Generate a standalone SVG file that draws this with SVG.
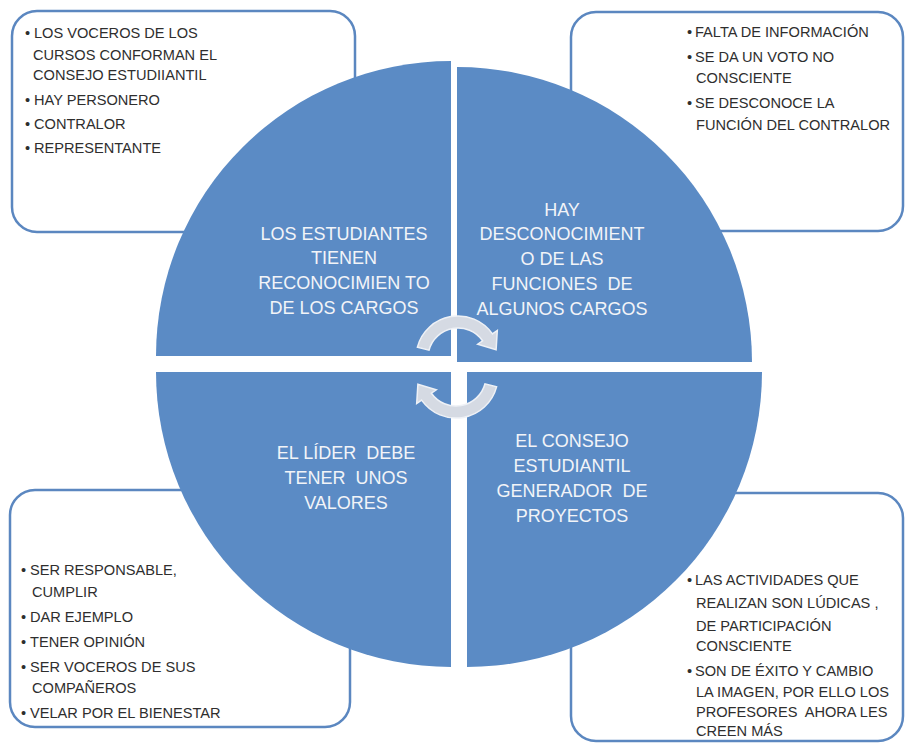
<svg xmlns="http://www.w3.org/2000/svg" width="906" height="745" viewBox="0 0 906 745">
<style>
.box{fill:#ffffff;stroke:#5b87c0;stroke-width:2.5}
.q{fill:#5b8bc5}
.qt{font-family:"Liberation Sans",Arial,sans-serif;font-size:18px;fill:#f2f4f8;text-anchor:middle;white-space:pre}
.bt{font-family:"Liberation Sans",Arial,sans-serif;font-size:14.6px;fill:#2e2e2e;white-space:pre}
.arr{fill:#d5dae3;stroke:#eef1f6;stroke-width:1.5}
</style>
<rect width="906" height="745" fill="#ffffff"/>
<g id="box-tl">
<rect class="box" x="12" y="11" width="343" height="221" rx="25"/>
<text class="bt"><tspan x="25" y="38">•</tspan><tspan x="34" y="38">LOS VOCEROS DE LOS</tspan><tspan x="33" y="60">CURSOS CONFORMAN EL</tspan><tspan x="33" y="80">CONSEJO ESTUDIIANTIL</tspan><tspan x="25" y="105">•</tspan><tspan x="34" y="105">HAY PERSONERO</tspan><tspan x="25" y="129">•</tspan><tspan x="34" y="129">CONTRALOR</tspan><tspan x="25" y="153">•</tspan><tspan x="34" y="153">REPRESENTANTE</tspan></text>
</g>
<g id="box-tr">
<rect class="box" x="571" y="12" width="332" height="219" rx="25"/>
<text class="bt"><tspan x="687" y="37">•</tspan><tspan x="695" y="37">FALTA DE INFORMACIÓN</tspan><tspan x="687" y="62">•</tspan><tspan x="695" y="62">SE DA UN VOTO NO</tspan><tspan x="696" y="83">CONSCIENTE</tspan><tspan x="687" y="108">•</tspan><tspan x="695" y="108">SE DESCONOCE LA</tspan><tspan x="696" y="130">FUNCIÓN DEL CONTRALOR</tspan></text>
</g>
<g id="box-bl">
<rect class="box" x="10" y="490" width="340" height="237" rx="25"/>
<text class="bt"><tspan x="21" y="575">•</tspan><tspan x="30" y="575">SER RESPONSABLE,</tspan><tspan x="32" y="597">CUMPLIR</tspan><tspan x="21" y="622">•</tspan><tspan x="30" y="622">DAR EJEMPLO</tspan><tspan x="21" y="647">•</tspan><tspan x="30" y="647">TENER OPINIÓN</tspan><tspan x="21" y="672">•</tspan><tspan x="30" y="672">SER VOCEROS DE SUS</tspan><tspan x="32" y="693">COMPAÑEROS</tspan><tspan x="21" y="718">•</tspan><tspan x="30" y="718">VELAR POR EL BIENESTAR</tspan></text>
</g>
<g id="box-br">
<rect class="box" x="571" y="493" width="332" height="248" rx="25"/>
<text class="bt"><tspan x="687" y="585">•</tspan><tspan x="695" y="585">LAS ACTIVIDADES QUE</tspan><tspan x="696" y="608">REALIZAN SON LÚDICAS ,</tspan><tspan x="696" y="631">DE PARTICIPACIÓN</tspan><tspan x="696" y="651">CONSCIENTE</tspan><tspan x="687" y="676">•</tspan><tspan x="695" y="676">SON DE ÉXITO Y CAMBIO</tspan><tspan x="696" y="697">LA IMAGEN, POR ELLO LOS</tspan><tspan x="696" y="717">PROFESORES  AHORA LES</tspan><tspan x="696" y="736">CREEN MÁS</tspan></text>
</g>
<g id="q-tl">
<path class="q" d="M451,356 L156,356 A295,295 0 0 1 451,61 Z"/>
<text class="qt"><tspan x="344" y="240">LOS ESTUDIANTES</tspan><tspan x="344" y="264">TIENEN</tspan><tspan x="344" y="289">RECONOCIMIEN TO</tspan><tspan x="344" y="314">DE LOS CARGOS</tspan></text>
</g>
<g id="q-tr">
<path class="q" d="M457,362 L457,67 A295,295 0 0 1 752,362 Z"/>
<text class="qt"><tspan x="562" y="216">HAY</tspan><tspan x="562" y="240">DESCONOCIMIENT</tspan><tspan x="562" y="265">O DE LAS</tspan><tspan x="562" y="290">FUNCIONES  DE</tspan><tspan x="562" y="315">ALGUNOS CARGOS</tspan></text>
</g>
<g id="q-bl">
<path class="q" d="M451,372 L451,667 A295,295 0 0 1 156,372 Z"/>
<text class="qt"><tspan x="346" y="459">EL LÍDER  DEBE</tspan><tspan x="346" y="484">TENER  UNOS</tspan><tspan x="346" y="509">VALORES</tspan></text>
</g>
<g id="q-br">
<path class="q" d="M467,372 L762,372 A295,295 0 0 1 467,667 Z"/>
<text class="qt"><tspan x="572" y="447">EL CONSEJO</tspan><tspan x="572" y="472">ESTUDIANTIL</tspan><tspan x="572" y="497">GENERADOR  DE</tspan><tspan x="572" y="522">PROYECTOS</tspan></text>
</g>
<g id="connectors">
<path class="arr" d="M417.4,347.1 A42,42 0 0 1 492.4,333.9 L497.3,330.5 L496.1,349.7 L477.7,344.2 L482.6,340.8 A30,30 0 0 0 429.0,350.2 Z"/>
<path class="arr" d="M496.6,386.9 A42,42 0 0 1 421.6,400.1 L416.7,403.5 L417.9,384.3 L436.3,389.8 L431.4,393.2 A30,30 0 0 0 485.0,383.8 Z"/>
</g>
</svg>
